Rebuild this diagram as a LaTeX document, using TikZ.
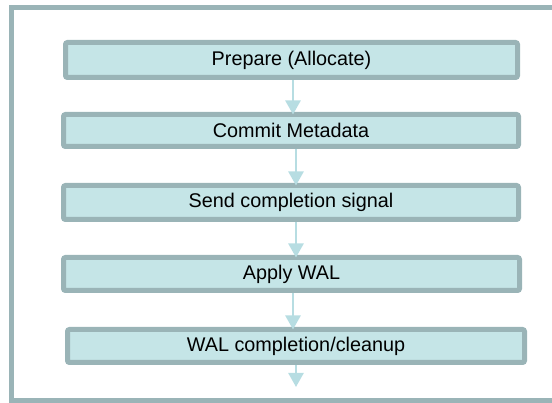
\documentclass[tikz,border=0pt]{standalone}
\usepackage{fontspec}
\setmainfont{Liberation Sans}
\usetikzlibrary{arrows.meta}

\definecolor{edgegray}{RGB}{154,180,183}
\definecolor{boxfill}{RGB}{197,229,231}
\definecolor{flowcol}{RGB}{183,221,226}

\tikzset{
  stagebox/.style={draw=edgegray, fill=boxfill, line width=5pt, rounded corners=2pt,
    inner sep=0pt, outer sep=0pt, font=\fontsize{19.8}{22}\selectfont, text=black},
  flow/.style={draw=flowcol, line width=2.5pt,
    -{Triangle[width=15pt,length=14pt]}},
}

\begin{document}
\begin{tikzpicture}[x=1pt,y=-1pt]
  \useasboundingbox (0,0) rectangle (552,403);

  % outer frame (its right side runs past the page edge)
  \draw[edgegray, line width=5pt] (570,7.5) -- (11.5,7.5) -- (11.5,401) -- (570,401);

  % stages, boxes given by the centre line of their borders
  \newcommand{\stage}[6]{%
    \node[stagebox, minimum width={#3-#2}, minimum height={#5-#4}]
      (#1) at ({(#2+#3)/2},{(#4+#5)/2}) {#6};}
  \stage{prep}{65.5}{517.5}{42.5}{77.5}{Prepare (Allocate)}
  \stage{meta}{63.5}{518.5}{114.5}{146.5}{Commit Metadata}
  \stage{signal}{63.5}{518.5}{185.5}{219.5}{Send completion signal}
  \stage{apply}{63.5}{519.5}{257.5}{290.5}{Apply WAL}
  \stage{clean}{67.5}{524.5}{329.5}{362.5}{WAL completion/cleanup}

  % columns the connectors run along, and the free end of the last one
  \coordinate (colA) at (293,0);
  \coordinate (colB) at (296,0);
  \coordinate (tail) at (296,387);

  % connectors between stages
  \draw[flow] (prep.south -| colA) ++(0,2.5) -- (meta.north -| colA);
  \draw[flow] (meta.south -| colB) ++(0,2.5) -- (signal.north -| colB);
  \draw[flow] (signal.south -| colB) ++(0,2.5) -- (apply.north -| colB);
  \draw[flow] (apply.south -| colA) ++(0,2.5) -- (clean.north -| colA);
  \draw[flow] (clean.south -| colB) ++(0,2.5) -- (tail);
\end{tikzpicture}
\end{document}
